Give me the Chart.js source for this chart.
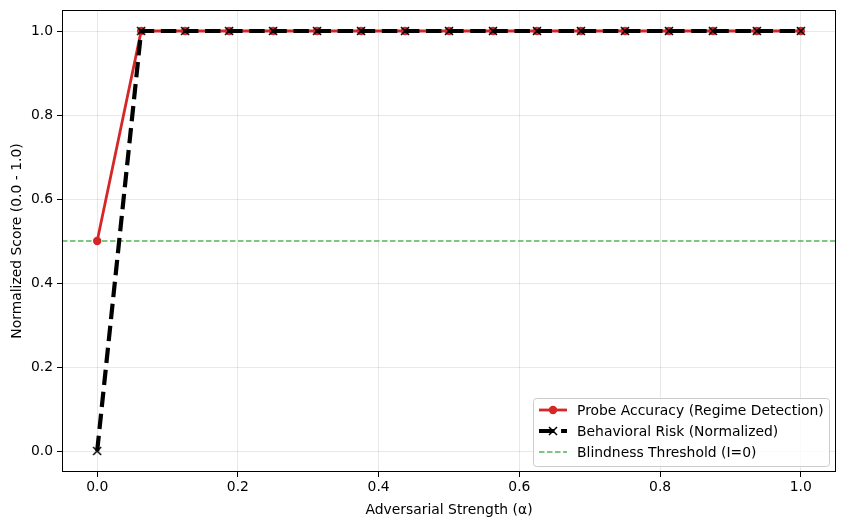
<!DOCTYPE html>
<html>
<head>
<meta charset="utf-8">
<script src="https://cdn.jsdelivr.net/npm/chart.js@4/dist/chart.umd.min.js"></script>
<style>
  html, body { margin: 0; padding: 0; background: #fff; }
  #wrap { width: 846px; height: 529px; }
</style>
</head>
<body>
<div id="wrap"><canvas id="grafico" width="846" height="529"></canvas></div>
<script>
// valores
const alphas = [0, 0.0625, 0.125, 0.1875, 0.25, 0.3125, 0.375, 0.4375, 0.5,
                0.5625, 0.625, 0.6875, 0.75, 0.8125, 0.875, 0.9375, 1.0];
const probeAcc = [0.5, 1, 1, 1, 1, 1, 1, 1, 1, 1, 1, 1, 1, 1, 1, 1, 1];
const behavRisk = [0.0, 1, 1, 1, 1, 1, 1, 1, 1, 1, 1, 1, 1, 1, 1, 1, 1];
const threshold = 0.5;
const xTicks = [0, 0.2, 0.4, 0.6, 0.8, 1.0];
const yTicks = [0, 0.2, 0.4, 0.6, 0.8, 1.0];
const xRange = [-0.05, 1.05];
const yRange = [-0.05, 1.05];
const labels = ['Probe Accuracy (Regime Detection)', 'Behavioral Risk (Normalized)', 'Blindness Threshold (I=0)'];

const FONT = 'DejaVu Sans';
const FS = 13.9;
const VERDE = 'rgba(44,160,44,0.6)';
const RAYA = [15.4, 6.7];

function pares(xs, ys) {
    return xs.map((x, i) => ({ x: x, y: ys[i] }));
}

// marco y leyenda estilo matplotlib
const marcoPlugin = {
    id: 'marco',
    afterDraw(chart) {
        const ctx = chart.ctx;
        const a = chart.chartArea;
        ctx.save();
        ctx.strokeStyle = '#000';
        ctx.lineWidth = 1;
        ctx.strokeRect(Math.round(a.left) + 0.5, Math.round(a.top) + 0.5,
                       Math.round(a.right - a.left) - 1, Math.round(a.bottom - a.top) - 1);

        // leyenda
        const bx = 533, by = 398, bw = 296, bh = 68;
        ctx.fillStyle = 'rgba(255,255,255,0.8)';
        ctx.strokeStyle = '#cccccc';
        ctx.lineWidth = 1;
        ctx.beginPath();
        ctx.roundRect(bx + 0.5, by + 0.5, bw, bh, 3);
        ctx.fill();
        ctx.stroke();

        const ys = [410, 431, 452];
        const x0 = 539, x1 = 567, xm = 553;
        ctx.font = FS + 'px ' + FONT;
        ctx.textBaseline = 'middle';

        // linea roja
        ctx.strokeStyle = '#d62728';
        ctx.lineWidth = 2.8;
        ctx.setLineDash([]);
        ctx.beginPath(); ctx.moveTo(x0, ys[0]); ctx.lineTo(x1, ys[0]); ctx.stroke();
        ctx.fillStyle = '#d62728';
        ctx.beginPath(); ctx.arc(xm, ys[0], 4.2, 0, Math.PI * 2); ctx.fill();

        // linea negra
        ctx.strokeStyle = '#000';
        ctx.lineWidth = 4.2;
        ctx.setLineDash(RAYA);
        ctx.beginPath(); ctx.moveTo(x0, ys[1]); ctx.lineTo(x1, ys[1]); ctx.stroke();
        ctx.setLineDash([]);
        ctx.lineWidth = 1.5;
        ctx.beginPath();
        ctx.moveTo(xm - 4, ys[1] - 4); ctx.lineTo(xm + 4, ys[1] + 4);
        ctx.moveTo(xm - 4, ys[1] + 4); ctx.lineTo(xm + 4, ys[1] - 4);
        ctx.stroke();

        // linea verde
        ctx.strokeStyle = VERDE;
        ctx.lineWidth = 2;
        ctx.setLineDash([5.5, 2.5]);
        ctx.beginPath(); ctx.moveTo(x0, ys[2]); ctx.lineTo(x1, ys[2]); ctx.stroke();
        ctx.setLineDash([]);

        ctx.fillStyle = '#000';
        labels.forEach((t, i) => ctx.fillText(t, 577, ys[i] + 1));
        ctx.restore();
    }
};

function cruz(size) {
    const c = document.createElement('canvas');
    c.width = size * 2 + 2; c.height = size * 2 + 2;
    const g = c.getContext('2d');
    g.strokeStyle = '#000';
    g.lineWidth = 1.5;
    const m = size + 1;
    g.beginPath();
    g.moveTo(m - size, m - size); g.lineTo(m + size, m + size);
    g.moveTo(m - size, m + size); g.lineTo(m + size, m - size);
    g.stroke();
    return c;
}

document.addEventListener("DOMContentLoaded", function() {
    const ctx = document.getElementById('grafico');
    new Chart(ctx, {
        type: 'scatter',
        data: {
            datasets: [{
                label: labels[0],
                data: pares(alphas, probeAcc),
                showLine: true,
                borderColor: '#d62728',
                backgroundColor: '#d62728',
                borderWidth: 2.8,
                pointRadius: 4.2,
                pointBorderWidth: 0,
                order: 1
            }, {
                label: labels[1],
                data: pares(alphas, behavRisk),
                showLine: true,
                borderColor: '#000',
                borderWidth: 4.2,
                borderDash: RAYA,
                pointStyle: cruz(4),
                order: 0
            }, {
                label: labels[2],
                data: pares(xRange, [threshold, threshold]),
                showLine: true,
                borderColor: VERDE,
                borderWidth: 2,
                borderDash: [5.5, 2.5],
                pointRadius: 0,
                order: 2
            }]
        },
        options: {
            responsive: false,
            animation: false,
            layout: { padding: { top: 10, right: 10, left: 0, bottom: 0 } },
            plugins: {
                legend: { display: false },
                tooltip: { enabled: false }
            },
            scales: {
                x: {
                    type: 'linear',
                    min: xRange[0], max: xRange[1],
                    afterBuildTicks: s => { s.ticks = xTicks.map(v => ({ value: v })); },
                    afterFit: s => { s.height = 57; s.paddingLeft = 0; s.paddingRight = 0; },
                    ticks: {
                        color: '#000', font: { family: FONT, size: FS }, padding: 2,
                        maxRotation: 0,
                        callback: v => v.toFixed(1)
                    },
                    grid: { color: 'rgba(0,0,0,0.09)', tickColor: '#000', tickLength: 5 },
                    border: { display: false },
                    title: {
                        display: true, text: 'Adversarial Strength (α)', color: '#000',
                        font: { family: FONT, size: FS }, padding: { top: 2, bottom: 10 }
                    }
                },
                y: {
                    min: yRange[0], max: yRange[1],
                    afterBuildTicks: s => { s.ticks = yTicks.map(v => ({ value: v })); },
                    afterFit: s => { s.width = 62; s.paddingTop = 0; s.paddingBottom = 0; },
                    ticks: {
                        color: '#000', font: { family: FONT, size: FS }, padding: 4,
                        callback: v => v.toFixed(1)
                    },
                    grid: { color: 'rgba(0,0,0,0.09)', tickColor: '#000', tickLength: 5 },
                    border: { display: false },
                    title: {
                        display: true, text: 'Normalized Score (0.0 - 1.0)', color: '#000',
                        font: { family: FONT, size: FS }, padding: { top: 9, bottom: 2 }
                    }
                }
            }
        },
        plugins: [marcoPlugin]
    });
});
</script>
</body>
</html>
